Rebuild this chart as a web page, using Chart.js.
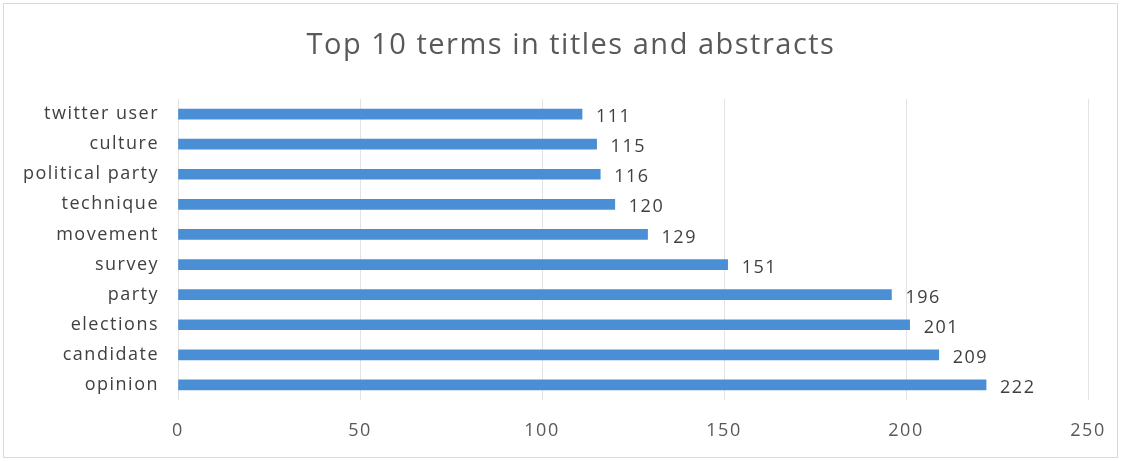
<!DOCTYPE html>
<html>
<head>
<meta charset="utf-8">
<script src="https://cdn.jsdelivr.net/npm/chart.js@4/dist/chart.umd.min.js"></script>
<style>
  html, body { margin: 0; padding: 0; background: #fff; }
  #wrap { width: 1121px; height: 461px; }
</style>
</head>
<body>
<div id="wrap"><canvas id="termos"></canvas></div>
<script>
const termos = ['twitter user', 'culture', 'political party', 'technique', 'movement',
                'survey', 'party', 'elections', 'candidate', 'opinion'];
const contagens = [111, 115, 116, 120, 129, 151, 196, 201, 209, 222];
const ticksX = [0, 50, 100, 150, 200, 250];
const titulo = 'Top 10 terms in titles and abstracts';

const fonte = '"Open Sans", Lato, sans-serif';

// texto um pouco mais espacado; o contexto perde isso a cada resize
const espacamento = {
    id: 'espacamento',
    beforeUpdate(chart) { chart.ctx.letterSpacing = '1.5px'; },
    beforeLayout(chart) { chart.ctx.letterSpacing = '1.5px'; },
    beforeDraw(chart) { chart.ctx.letterSpacing = '1.5px'; }
};

// fundo branco, moldura clara e o titulo
const moldura = {
    id: 'moldura',
    beforeDraw(chart) {
        const ctx = chart.ctx;
        ctx.save();
        ctx.fillStyle = '#fff';
        ctx.fillRect(0, 0, chart.width, chart.height);
        ctx.strokeStyle = '#d9d9d9';
        ctx.lineWidth = 1;
        ctx.strokeRect(3.5, 3.5, chart.width - 7, chart.height - 7);
        ctx.font = '29px ' + fonte;
        ctx.fillStyle = '#595959';
        ctx.textAlign = 'center';
        ctx.textBaseline = 'middle';
        ctx.fillText(titulo, 571, 46);
        ctx.restore();
    }
};

// numero no fim de cada barra
const rotulos = {
    id: 'rotulos',
    afterDatasetsDraw(chart) {
        const ctx = chart.ctx;
        const meta = chart.getDatasetMeta(0);
        ctx.save();
        ctx.font = '18px ' + fonte;
        ctx.fillStyle = '#404040';
        ctx.textAlign = 'left';
        ctx.textBaseline = 'middle';
        meta.data.forEach((barra, i) => {
            ctx.fillText(String(contagens[i]), barra.x + 14, barra.y + 3);
        });
        ctx.restore();
    }
};

new Chart(document.getElementById('termos'), {
    type: 'bar',
    data: {
        labels: termos,
        datasets: [{
            data: contagens,
            backgroundColor: '#4a8fd6',
            barThickness: 10
        }]
    },
    options: {
        indexAxis: 'y',
        responsive: true,
        maintainAspectRatio: false,
        animation: false,
        layout: { padding: { left: 0, right: 33, top: 99, bottom: 0 } },
        plugins: {
            legend: { display: false },
            tooltip: { enabled: false },
            title: { display: false }
        },
        scales: {
            x: {
                min: 0,
                max: 250,
                afterBuildTicks(axis) {
                    axis.ticks = ticksX.map(v => ({ value: v }));
                },
                afterFit(axis) {
                    axis.height = 61;
                    axis.paddingLeft = 0;
                    axis.paddingRight = 0;
                },
                grid: { color: '#e3e3e3', drawTicks: false },
                border: { display: false },
                ticks: {
                    color: '#595959',
                    padding: 20,
                    font: { family: fonte, size: 18 }
                }
            },
            y: {
                afterFit(axis) { axis.width = 178; },
                grid: { display: false, drawTicks: false },
                border: { display: false },
                ticks: {
                    color: '#404040',
                    padding: 19,
                    font: { family: fonte, size: 18 }
                }
            }
        }
    },
    plugins: [espacamento, moldura, rotulos]
});
</script>
</body>
</html>
